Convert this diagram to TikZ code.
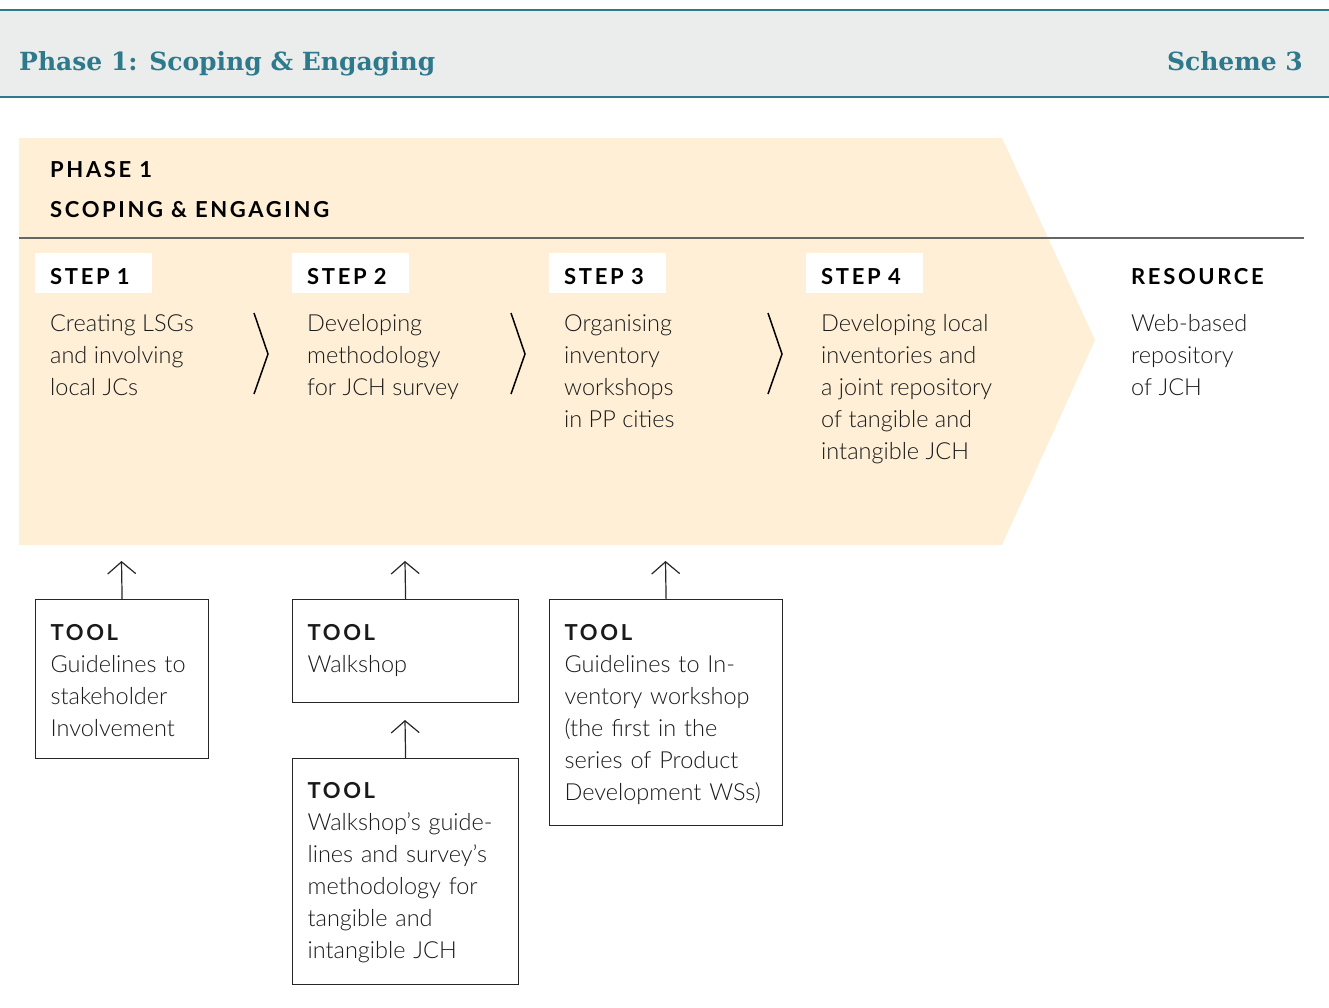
\documentclass[tikz,border=0pt]{standalone}
\usepackage{fontspec}
\setmainfont{Lato}[UprightFont=* Light]
\newfontfamily\titlefont{DejaVu Serif}
\newfontfamily\capsfont[LetterSpace=12]{Lato}
\usetikzlibrary{arrows.meta}

\definecolor{schemeteal}{HTML}{2E7A8C}
\definecolor{bandgray}{HTML}{EBEDEC}
\definecolor{phasefill}{HTML}{FEEFD6}
\definecolor{bodytext}{HTML}{1A1A1A}
\definecolor{ruleline}{HTML}{666666}

\newcommand{\bodyfont}{\fontsize{23.5}{32}\selectfont}
\newcommand{\headfont}{\capsfont\bfseries\fontsize{22}{32}\selectfont}
\newcommand{\toolgap}[1]{\rule[-#1]{0pt}{#1}}

\tikzset{
	title/.style={font=\titlefont\bfseries\fontsize{25}{30}\selectfont, text=schemeteal, inner sep=0pt},
	heading/.style={anchor=base west, inner sep=0pt, font=\headfont, text=black},
	steptag/.style={heading, fill=white, inner xsep=15pt, text height=31pt, text depth=9pt, text width=87pt},
	desc/.style={anchor=base west, inner sep=0pt, align=left, font=\bodyfont, text=bodytext},
	tool/.style={draw=black!85, line width=1.2pt, anchor=north west, inner xsep=15pt, inner ysep=0pt, align=left, font=\bodyfont, text=bodytext},
	toolarrow/.style={-{Straight Barb[length=12pt,width=28pt]}, line width=1.2pt, black!85},
	chevron/.style={line width=1.5pt, black}
}

\begin{document}
\begin{tikzpicture}[x=1pt,y=-1pt]
	%%%%% START %%%%%
	\useasboundingbox (0,0) rectangle (1329,1007);
	
	% header band
	\fill[bandgray] (0,10) rectangle (1329,97);
	\draw[schemeteal, line width=2.5pt] (0,10) -- (1329,10);
	\draw[schemeteal, line width=2.5pt] (0,97) -- (1329,97);
	\node[title, anchor=base west] (head) at (19,70) {Phase 1: Scoping \& Engaging};
	\node[title, anchor=base east] (scheme) at (1303,70) {Scheme 3};
	
	% phase arrow
	\fill[phasefill] (19,138) -- (1002,138) -- (1095,340) -- (1002,545) -- (19,545) -- cycle;
	\draw[ruleline, line width=1.3pt] (19,238) -- (1304,238);
	\node[heading] (phase) at (50,177) {PHASE 1};
	\node[heading] (phasename) at (50,217) {SCOPING \& ENGAGING};
	
	% steps (desc nodes sit on the baseline of their last line)
	\node[steptag] (step1) at (35,284) {STEP 1};
	\node[steptag] (step2) at (292,284) {STEP 2};
	\node[steptag] (step3) at (549,284) {STEP 3};
	\node[steptag] (step4) at (806,284) {STEP 4};
	\node[heading] (resource) at (1131,284) {RESOURCE};
	
	\node[desc] (desc1) at (50,395) {Creating LSGs\\and involving\\local JCs};
	\node[desc] (desc2) at (307,395) {Developing\\methodology\\for JCH survey};
	\node[desc] (desc3) at (564,427) {Organising\\inventory\\workshops\\in PP cities};
	\node[desc] (desc4) at (821,459) {Developing local\\inventories and\\a joint repository\\of tangible and\\intangible JCH};
	\node[desc] (descres) at (1131,395) {Web-based\\repository\\of JCH};
	
	\foreach \x in {254,511,768}
		\draw[chevron] (\x,313) -- (\x+14,354) -- (\x,394);
	
	% tools
	\node[tool, text width=143pt] (tool1) at (35,599)
		{{\headfont TOOL}\rule{0pt}{41pt}\\Guidelines to\\stakeholder\\Involvement\toolgap{22pt}};
	\node[tool, text width=196pt] (tool2) at (292,599)
		{{\headfont TOOL}\rule{0pt}{41pt}\\Walkshop\toolgap{30pt}};
	\node[tool, text width=196pt] (tool3) at (292,758)
		{{\headfont TOOL}\rule{0pt}{40pt}\\Walkshop’s guide-\\lines and survey’s\\methodology for\\tangible and\\intangible JCH\toolgap{26pt}};
	\node[tool, text width=203pt] (tool4) at (549,599)
		{{\headfont TOOL}\rule{0pt}{41pt}\\Guidelines to In-\\ventory workshop\\(the first in the\\series of Product\\Development WSs)\toolgap{25pt}};
	
	\coordinate (up1) at (121.5,561);
	\coordinate (up2) at (405,561);
	\coordinate (up3) at (405,720);
	\coordinate (up4) at (665.5,561);
	\draw[toolarrow] (tool1.north) -- (up1);
	\draw[toolarrow] (tool2.north) -- (up2);
	\draw[toolarrow] (tool3.north) -- (up3);
	\draw[toolarrow] (tool4.north) -- (up4);
	%%%%% END %%%%%
\end{tikzpicture}
\end{document}
